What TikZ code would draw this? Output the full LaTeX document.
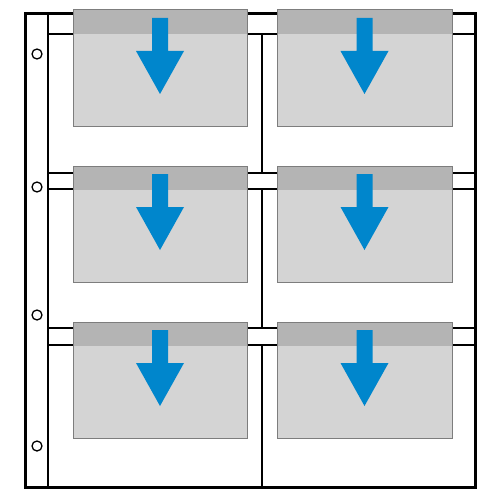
\documentclass[tikz,border=0pt]{standalone}
\usetikzlibrary{calc}
\definecolor{cardfill}{RGB}{212,212,212}
\definecolor{cardband}{RGB}{180,180,180}
\definecolor{cardedge}{RGB}{125,125,125}
\definecolor{arrowblue}{RGB}{0,134,204}
\tikzset{
  frameline/.style={line width=3pt,black},
  innerline/.style={line width=2pt,black},
  stripline/.style={line width=1.8pt,black},
  dividerline/.style={line width=1.4pt,black},
  holecircle/.style={line width=1.3pt,black,fill=white},
  cardbody/.style={fill=cardfill},
  cardtop/.style={fill=cardband},
  cardborder/.style={draw=cardedge,line width=1pt},
  downarrow/.style={fill=arrowblue}
}
\begin{document}
\begin{tikzpicture}[x=1pt,y=-1pt]
\useasboundingbox (0,0) rectangle (500,500);
\fill[white] (0,0) rectangle (500,500);
% strip lines
\foreach \ya/\yb in {14/34,173/189,328/345}{
  \draw[stripline] (48,\ya) -- (475,\ya);
  \draw[stripline] (48,\yb) -- (475,\yb);
}
% divider
\draw[dividerline] (262,34) -- (262,173);
\draw[dividerline] (262,189) -- (262,328);
\draw[dividerline] (262,345) -- (262,487);
% inner vertical
\draw[innerline] (48,14) -- (48,487);
% outer frame
\draw[frameline] (25,14) rectangle (475,487);
% holes
\foreach \hy in {54,187,315,446}{
  \draw[holecircle] (37,\hy) circle (5);
}
% cards
\foreach \t in {10,166,322}{
  \foreach \xl/\xr in {73/247,277/452}{
    \fill[cardbody] (\xl,\t) rectangle (\xr,\t+116);
    \fill[cardtop] (\xl,\t) rectangle (\xr,\t+24);
    \draw[cardborder] (\xl,\t) rectangle (\xr,\t+116);
    \pgfmathsetmacro{\cx}{(\xl+\xr)/2}
    \fill[downarrow] (\cx-8,\t+8) -- (\cx+8,\t+8) -- (\cx+8,\t+41) -- (\cx+24,\t+41)
      -- (\cx,\t+84) -- (\cx-24,\t+41) -- (\cx-8,\t+41) -- cycle;
  }
}
\end{tikzpicture}
\end{document}
